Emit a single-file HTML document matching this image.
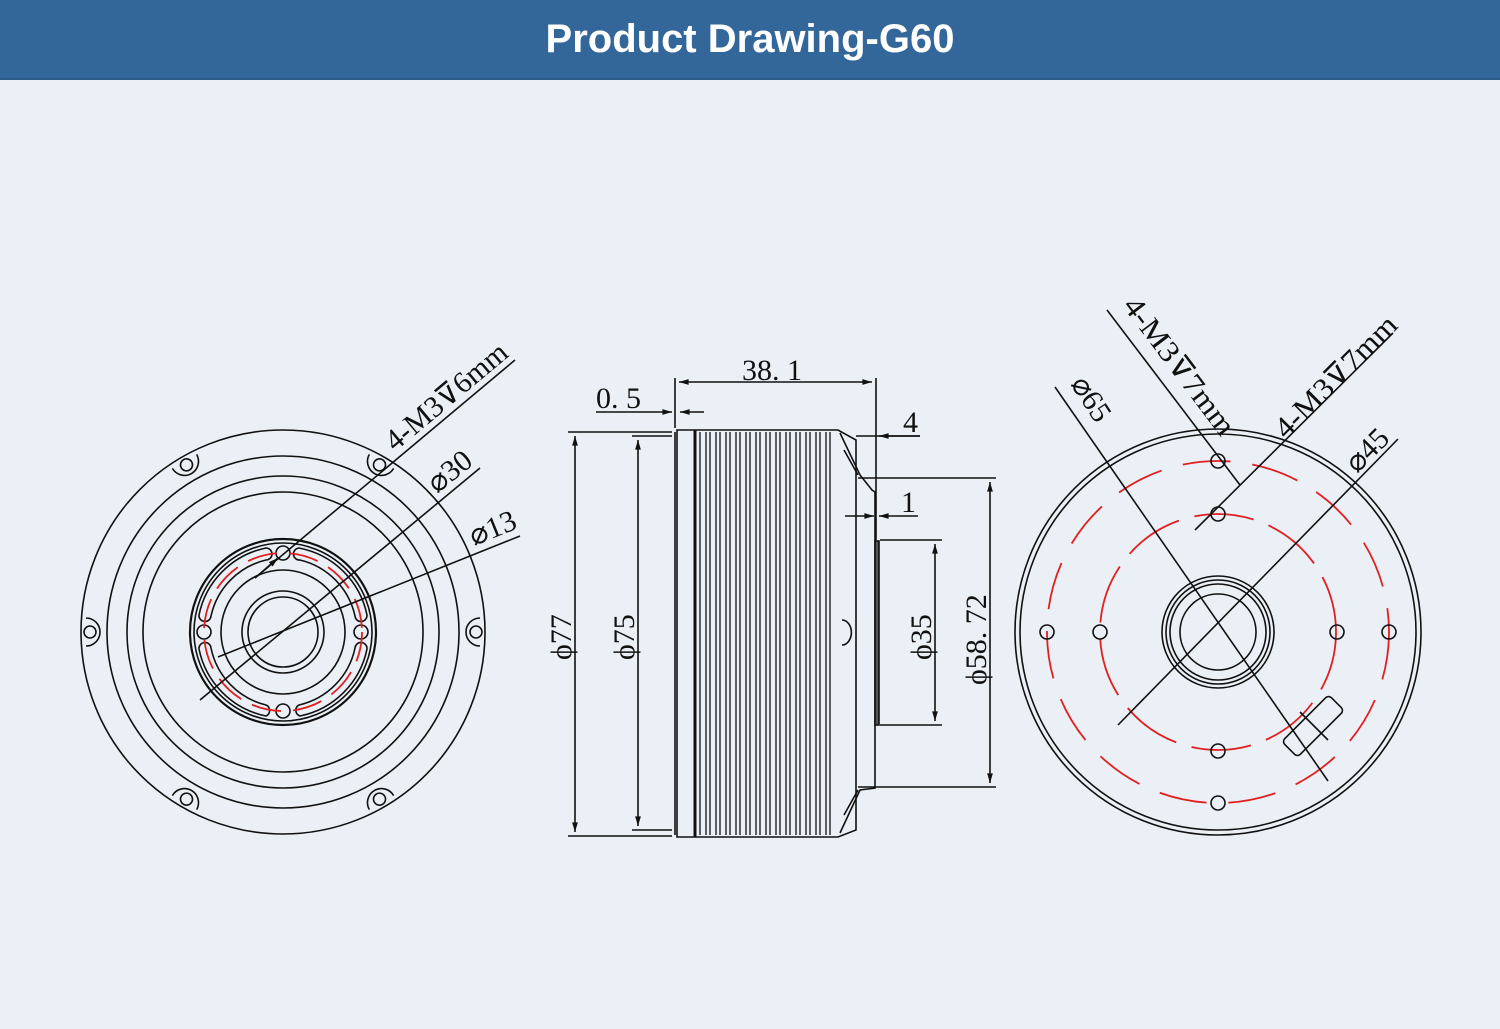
<!DOCTYPE html>
<html><head><meta charset="utf-8"><style>
body{margin:0;width:1500px;height:1029px;background:#ebf0f6;overflow:hidden}
.h{position:absolute;left:0;top:0;width:1500px;height:78px;background:#336699;border-bottom:2px solid #2a5a88;color:#fff;font:bold 40px "Liberation Sans",sans-serif;text-align:center;line-height:78px}
svg{position:absolute;left:0;top:0}
svg text{font-family:"Liberation Serif",serif;font-size:30px;fill:#111;stroke:none}
</style></head><body>
<div class="h">Product Drawing-G60</div>
<svg width="1500" height="1029" viewBox="0 0 1500 1029" fill="none" stroke="#111" stroke-width="1.6">
<defs><marker id="a" viewBox="0 0 10 10" refX="10" refY="5" markerWidth="8" markerHeight="6" orient="auto-start-reverse"><path d="M0 2L10 5L0 8z" fill="#111" stroke="none"/></marker>
<g id="ear"><path d="M197 -14 A14 14 0 0 0 197 14"/><circle cx="193" cy="0" r="6"/></g></defs>
<!-- LEFT VIEW -->
<g>
<circle cx="283" cy="632" r="202"/>
<circle cx="283" cy="632" r="176"/>
<circle cx="283" cy="632" r="156"/>
<circle cx="283" cy="632" r="140"/>
<g transform="translate(283,632)">
<use href="#ear" transform="rotate(0)"/><use href="#ear" transform="rotate(60)"/><use href="#ear" transform="rotate(120)"/>
<use href="#ear" transform="rotate(180)"/><use href="#ear" transform="rotate(240)"/><use href="#ear" transform="rotate(300)"/>
</g>
<circle cx="283" cy="632" r="93" stroke-width="2.2"/>
<circle cx="283" cy="632" r="89"/>
<circle cx="283" cy="632" r="62"/>
<circle cx="283" cy="632" r="41"/>
<circle cx="283" cy="632" r="35"/>
<circle cx="283" cy="553" r="7"/><circle cx="204" cy="632" r="7"/><circle cx="361" cy="632" r="7"/><circle cx="283" cy="711" r="7"/>
<path d="M299 548 A86 86 0 0 1 367 615 A6 6 0 0 1 355 616 A74 74 0 0 0 300 560 A6 6 0 0 1 299 548Z"/>
<path d="M367 649 A86 86 0 0 1 300 716 A6 6 0 0 1 299 705 A74 74 0 0 0 355 648 A6 6 0 0 1 367 649Z"/>
<path d="M266 716 A86 86 0 0 1 199 649 A6 6 0 0 1 211 648 A74 74 0 0 0 266 705 A6 6 0 0 1 266 716Z"/>
<path d="M199 615 A86 86 0 0 1 266 548 A6 6 0 0 1 266 560 A74 74 0 0 0 211 616 A6 6 0 0 1 199 615Z"/>
<circle cx="283" cy="632" r="79" stroke="#e02020" stroke-width="1.8" stroke-dasharray="30 12"/>
<line x1="255" y1="578" x2="515" y2="360"/><line x1="255" y1="578" x2="278" y2="558" marker-end="url(#a)"/>
<line x1="200" y1="700" x2="480" y2="468"/>
<line x1="218" y1="657" x2="520" y2="536"/>
</g>
<text transform="translate(395,452) rotate(-40)" textLength="150" lengthAdjust="spacingAndGlyphs">4-M3⊽6mm</text>
<text transform="translate(437,494) rotate(-39)">⌀30</text>
<text transform="translate(474,546) rotate(-22)">⌀13</text>
<!-- MIDDLE VIEW -->
<g>
<path d="M677 430 H838 L856 440 V830 L838 837 H677 Z"/>
<line x1="675" y1="432" x2="675" y2="835"/>
<line x1="695" y1="430" x2="695" y2="837" stroke-width="3"/>
<g stroke-width="1.3">
<path d="M700 432V835M706 432V835M710 432V835M716 432V835M720 432V835M726 432V835M730 432V835M736 432V835M740 432V835M746 432V835M750 432V835M756 432V835M760 432V835M766 432V835M770 432V835M776 432V835M780 432V835M786 432V835M790 432V835M796 432V835M800 432V835M806 432V835M810 432V835M816 432V835M820 432V835M826 432V835M830 432V835"/>
</g>
<path d="M840 433 L860 475 L872 490 L875 492 V788 L860 790 L840 833"/>
<path d="M844 450 L858 475 M844 815 L858 790"/>
<rect x="875" y="541" width="4" height="184" fill="#555"/>
<path d="M842 620 a9 12 0 0 1 0 25"/>
<line x1="568" y1="432" x2="672" y2="432"/><line x1="568" y1="836" x2="672" y2="836"/>
<line x1="575" y1="436" x2="575" y2="832" marker-start="url(#a)" marker-end="url(#a)"/>
<line x1="632" y1="436" x2="672" y2="436"/><line x1="632" y1="830" x2="672" y2="830"/>
<line x1="638" y1="440" x2="638" y2="826" marker-start="url(#a)" marker-end="url(#a)"/>
<line x1="675" y1="378" x2="675" y2="428"/><line x1="876" y1="378" x2="876" y2="540"/>
<line x1="679" y1="382" x2="872" y2="382" marker-start="url(#a)" marker-end="url(#a)"/>
<line x1="596" y1="412" x2="672" y2="412" marker-end="url(#a)"/><line x1="704" y1="412" x2="680" y2="412" marker-end="url(#a)"/>
<line x1="856" y1="436" x2="920" y2="436"/><line x1="920" y1="436" x2="879" y2="436" marker-end="url(#a)"/>
<line x1="845" y1="516" x2="874" y2="516" marker-end="url(#a)"/><line x1="918" y1="516" x2="879" y2="516" marker-end="url(#a)"/>
<line x1="858" y1="478" x2="996" y2="478"/><line x1="858" y1="787" x2="996" y2="787"/>
<line x1="990" y1="482" x2="990" y2="783" marker-start="url(#a)" marker-end="url(#a)"/>
<line x1="880" y1="540" x2="942" y2="540"/><line x1="880" y1="725" x2="942" y2="725"/>
<line x1="935" y1="544" x2="935" y2="721" marker-start="url(#a)" marker-end="url(#a)"/>
</g>
<text x="742" y="380">38. 1</text>
<text x="596" y="408">0. 5</text>
<text x="903" y="432">4</text>
<text x="901" y="512">1</text>
<text transform="translate(571,660) rotate(-90)">ϕ77</text>
<text transform="translate(634,660) rotate(-90)">ϕ75</text>
<text transform="translate(931,660) rotate(-90)">ϕ35</text>
<text transform="translate(986,685) rotate(-90)">ϕ58. 72</text>
<!-- RIGHT VIEW -->
<g>
<circle cx="1218" cy="632" r="203"/>
<circle cx="1218" cy="632" r="198"/>
<circle cx="1218" cy="632" r="171" stroke="#e02020" stroke-width="1.8" stroke-dasharray="48 22"/>
<circle cx="1218" cy="632" r="118" stroke="#e02020" stroke-width="1.8" stroke-dasharray="60 16"/>
<circle cx="1218" cy="632" r="56"/><circle cx="1218" cy="632" r="52"/><circle cx="1218" cy="632" r="48"/><circle cx="1218" cy="632" r="38"/>
<circle cx="1218" cy="461" r="7"/><circle cx="1218" cy="514" r="7"/><circle cx="1047" cy="632" r="7"/><circle cx="1100" cy="632" r="7"/>
<circle cx="1337" cy="632" r="7"/><circle cx="1389" cy="632" r="7"/><circle cx="1218" cy="751" r="7"/><circle cx="1218" cy="803" r="7"/>
<rect x="-33" y="-11" width="66" height="22" rx="4" transform="translate(1313,726) rotate(-45)"/>
<line x1="1300" y1="712" x2="1328" y2="740" />
<line x1="1055" y1="387" x2="1328" y2="781"/>
<line x1="1118" y1="725" x2="1398" y2="439"/>
<line x1="1107" y1="310" x2="1240" y2="485"/>
<line x1="1195" y1="530" x2="1393" y2="333"/>
</g>
<text transform="translate(1070,384) rotate(57)">⌀65</text>
<text transform="translate(1122,306) rotate(53)" textLength="165" lengthAdjust="spacingAndGlyphs">4-M3⊽7mm</text>
<text transform="translate(1286,440) rotate(-45)" textLength="160" lengthAdjust="spacingAndGlyphs">4-M3⊽7mm</text>
<text transform="translate(1357,474) rotate(-45)">⌀45</text>
</svg>
</body></html>
